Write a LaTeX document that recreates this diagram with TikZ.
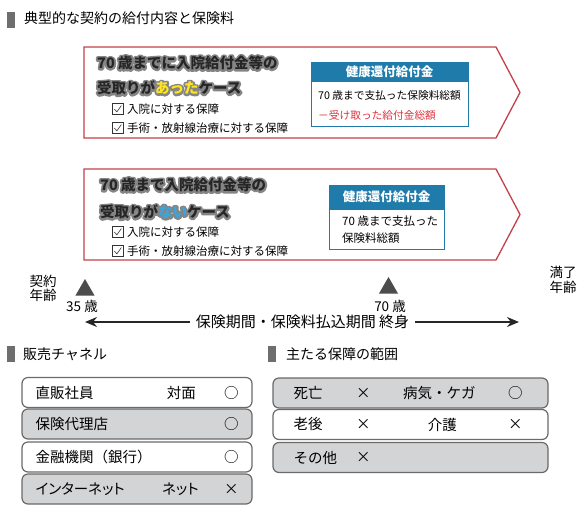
\documentclass[tikz,border=0pt]{standalone}
\usepackage{fontspec}
\setmainfont{Noto Sans CJK JP}
\definecolor{caseline}{HTML}{C2414B}
\definecolor{headblue}{HTML}{1E7BAA}
\definecolor{skyblue}{HTML}{3AA6DD}
\definecolor{lemon}{HTML}{FFE51F}
\definecolor{minusred}{HTML}{E0323C}
\definecolor{barfill}{HTML}{6E6E6E}
\definecolor{rowfill}{HTML}{D3D4D6}
\definecolor{rowedge}{HTML}{6A6A6A}
\definecolor{halo}{HTML}{858585}
\usetikzlibrary{calc, positioning, shapes.geometric, arrows.meta}
\newcommand{\acc}[2]{\textcolor{#1}{#2}}
\newcommand{\plainacc}[2]{#2}
\newcommand{\glowtext}[3]{%
  \node[headtext, text=halo] (#1h) at (#2) {\let\acc\plainacc\special{pdf:literal direct 2 Tr 4 w 1 j 0.52 0.52 0.52 RG}#3\special{pdf:literal direct 0 Tr}};
  \node[headtext] (#1) at (#2) {#3};}
\tikzset{
  secbar/.style={fill=barfill, minimum width=8, minimum height=16, inner sep=0},
  sectitle/.style={anchor=west, inner sep=0, font=\fontsize{14}{16}\selectfont},
  casebox/.style={draw=caseline, line width=1.3pt, fill=white},
  headtext/.style={anchor=west, inner sep=0, text=black!85, font=\fontsize{14.5}{16}\selectfont\bfseries},
  chkbox/.style={draw=black!80, line width=0.6pt, minimum size=11, inner sep=0},
  chktext/.style={anchor=west, inner sep=0, font=\fontsize{11.5}{13}\selectfont},
  infobox/.style={draw=headblue, line width=1pt, fill=white, inner sep=0},
  infohead/.style={draw=headblue, line width=1pt, fill=headblue, text=white, inner sep=0, anchor=north, font=\fontsize{12.5}{14}\selectfont\bfseries},
  infotext/.style={anchor=west, inner sep=0, font=\fontsize{11.5}{13}\selectfont},
  marker/.style={regular polygon, regular polygon sides=3, fill=black!70, minimum size=22, inner sep=0},
  agetext/.style={align=center, inner sep=0, font=\fontsize{13.5}{14.5}\selectfont},
  spanarrow/.style={-{Stealth[length=12pt,width=10pt]}, line width=1.5pt, black!85},
  rowbox/.style={draw=rowedge, line width=1.2pt, rounded corners=6pt, minimum height=30, inner sep=0},
  rowtext/.style={anchor=west, inner sep=0, font=\fontsize{14.5}{16}\selectfont},
  rowmark/.style={inner sep=0, font=\fontsize{14.5}{16}\selectfont},
  kana/.style={font=\fontsize{14.5}{16}\selectfont\addfontfeatures{RawFeature=+palt}}
}

\begin{document}
\begin{tikzpicture}[x=1pt, y=-1pt]
  \useasboundingbox (0,0) rectangle (588,520);

  \node[secbar] (bar0) at (11,19.5) {};
  \node[sectitle] (title0) at (24,18.5) {典型的な契約の給付内容と保険料};

  \draw[casebox] (84,47) -- (496,47) -- (520,92.5) -- (496,138) -- (84,138) -- cycle;
  \draw[casebox] (84,169) -- (496,169) -- (520,214.5) -- (496,260) -- (84,260) -- cycle;

  \glowtext{got1}{97,63}{70 歳までに入院給付金等の}
  \glowtext{got2}{97,88}{受取りが\acc{lemon}{あった}ケース}
  \glowtext{none1}{100,185}{70 歳まで入院給付金等の}
  \glowtext{none2}{100,212}{受取りが\acc{skyblue}{ない}ケース}

  \foreach \cy/\txt [count=\i] in {109/入院に対する保障, 128/手術・放射線治療に対する保障,
                                   232/入院に対する保障, 251/手術・放射線治療に対する保障} {
    \node[chkbox] (box\i) at (117.5,\cy) {};
    \draw[black!80, line width=0.6pt] ($(box\i.center)+(-3.2,0)$) -- ($(box\i.center)+(-0.6,2.8)$) -- ($(box\i.center)+(3.8,-3.4)$);
    \node[chktext] (item\i) at (127,\cy) {\txt};
  }

  \node[infobox, minimum width=157, minimum height=64] (ret1) at (389.5,94) {};
  \node[infohead, minimum width=157, minimum height=19.5] (ret1h) at (ret1.north) {健康還付給付金};
  \node[infotext, font=\fontsize{10.7}{13}\selectfont] (ret1a) at (318,95) {70 歳まで支払った保険料総額};
  \node[infotext, text=minusred, font=\fontsize{10.7}{13}\selectfont] (ret1b) at (318,115) {－受け取った給付金総額};

  \node[infobox, minimum width=115, minimum height=64] (ret2) at (386.5,217) {};
  \node[infohead, minimum width=115, minimum height=24] (ret2h) at (ret2.north) {健康還付給付金};
  \node[infotext] (ret2a) at (342,221) {70 歳まで支払った};
  \node[infotext] (ret2b) at (342,238.5) {保険料総額};

  \node[agetext] (entry) at (43,288.5) {契約\\年齢};
  \node[agetext] (expiry) at (563,280) {満了\\年齢};
  \node[marker] (m35) at (85,290) {};
  \node[marker] (m70) at (388.5,288) {};
  \node[agetext] (a35) at (82,306) {35 歳};
  \node[agetext] (a70) at (390,306) {70 歳};
  \node[inner xsep=6pt, inner ysep=0, font=\fontsize{15}{17}\selectfont] (span) at (302.5,322) {保険期間・保険料払込期間 終身};
  \coordinate (tl) at (85,322);
  \coordinate (tr) at (519,322);
  \draw[spanarrow] (span.west) -- (tl);
  \draw[spanarrow] (span.east) -- (tr);

  \node[secbar] (bar1) at (11,354) {};
  \node[sectitle] (title1) at (23,354) {販売チャネル};
  \node[secbar] (bar2) at (272,354) {};
  \node[sectitle] (title2) at (286,354.5) {主たる保障の範囲};

  \foreach \name/\y/\shade in {ch1/392.5/white, ch2/424/rowfill, ch3/457/white, ch4/489/rowfill}
    \node[rowbox, fill=\shade, minimum width=230] (\name) at (137,\y) {};
  \node[rowtext] (ch1a) at ([xshift=14]ch1.west) {直販社員};
  \node[rowmark] (ch1b) at ([xshift=160]ch1.west) {対面};
  \node[rowmark] (ch1c) at ([xshift=210]ch1.west) {○};
  \node[rowtext] (ch2a) at ([xshift=14]ch2.west) {保険代理店};
  \node[rowmark] (ch2c) at ([xshift=210]ch2.west) {○};
  \node[rowtext] (ch3a) at ([xshift=14]ch3.west) {金融機関（銀行）};
  \node[rowmark] (ch3c) at ([xshift=210]ch3.west) {○};
  \node[rowtext, kana] (ch4a) at ([xshift=14]ch4.west) {インターネット};
  \node[rowmark, kana] (ch4b) at ([xshift=159]ch4.west) {ネット};
  \node[rowmark] (ch4c) at ([xshift=210]ch4.west) {×};

  \foreach \name/\y/\shade in {cv1/393/rowfill, cv2/424.5/white, cv3/457.5/rowfill}
    \node[rowbox, fill=\shade, minimum width=275] (\name) at (410.5,\y) {};
  \node[rowtext] (cv1a) at ([xshift=21]cv1.west) {死亡};
  \node[rowmark] (cv1b) at ([xshift=91]cv1.west) {×};
  \node[rowmark] (cv1c) at ([xshift=167]cv1.west) {病気・ケガ};
  \node[rowmark] (cv1d) at ([xshift=243]cv1.west) {○};
  \node[rowtext] (cv2a) at ([xshift=21]cv2.west) {老後};
  \node[rowmark] (cv2b) at ([xshift=91]cv2.west) {×};
  \node[rowmark] (cv2c) at ([xshift=170]cv2.west) {介護};
  \node[rowmark] (cv2d) at ([xshift=243]cv2.west) {×};
  \node[rowtext] (cv3a) at ([xshift=21]cv3.west) {その他};
  \node[rowmark] (cv3b) at ([xshift=91]cv3.west) {×};
\end{tikzpicture}
\end{document}
